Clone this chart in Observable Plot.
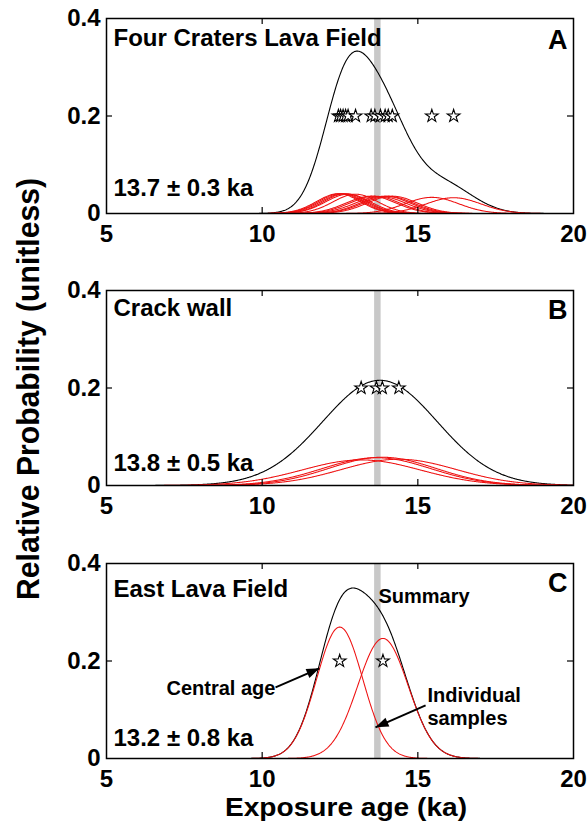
<!DOCTYPE html>
<html><head><meta charset="utf-8">
<script src="https://cdn.jsdelivr.net/npm/d3@7"></script>
<script src="https://cdn.jsdelivr.net/npm/@observablehq/plot@0.6"></script>
<style>
body{margin:0;background:#fff;}
#wrap{position:relative;width:587px;height:822px;overflow:hidden;background:#fff;}
#wrap svg{position:absolute;left:0;}
</style></head><body><div id="wrap"></div>
<script>
// ---- data ----
const xTicks = [5, 10, 15, 20];
const yTicks = [0, 0.2, 0.4];
const innerXTicks = [10, 15];
const innerYTicks = [0.2];
const referenceAge = 13.7;
const starLevel = 0.2;

const titles = ["Four Craters Lava Field", "Crack wall", "East Lava Field"];
const letters = ["A", "B", "C"];
const summaries = ["13.7 ± 0.3 ka", "13.8 ± 0.5 ka", "13.2 ± 0.8 ka"];

// sample exposure ages (ka) and 1-sigma uncertainties
const agesA = [12.45, 12.52, 12.6, 12.68, 12.76, 13.0, 13.5, 13.62, 13.8, 13.95, 14.05, 14.18, 15.45, 16.15];
const sigmasA = [0.70, 0.70, 0.71, 0.70, 0.72, 0.72, 0.80, 0.80, 0.82, 0.80, 0.81, 0.80, 0.86, 0.88];
const agesB = [13.18, 13.67, 13.86, 14.39];
const sigmasB = [1.90, 1.75, 1.72, 1.85];
const agesC = [12.49, 13.88];
const sigmasC = [0.74, 0.81];

const notesC = ["Summary", "Central age", "Individual\nsamples"];
const arrowsC = [
  {x1: 10.43, y1: 0.146, x2: 11.84, y2: 0.185},
  {x1: 15.25, y1: 0.109, x2: 13.64, y2: 0.064}
];
const xLabel = "Exposure age (ka)";
const yLabel = "Relative Probability (unitless)";

// ---- helpers ----
const FONT = "'Liberation Sans', Arial, Helvetica, sans-serif";
const PLOT_W = 467, PLOT_H = 195;
function gauss(x, mu, s, n) {
  return Math.exp(-0.5 * ((x - mu) / s) ** 2) / (s * Math.sqrt(2 * Math.PI)) / n;
}
function grid(lo, hi) { return d3.range(lo, hi, 0.02).concat([hi]); }

// filled arrow-head symbol with its tip at the origin, pointing up
const headSymbol = {
  draw(ctx) { ctx.moveTo(0, 0); ctx.lineTo(-4.8, 13); ctx.lineTo(4.8, 13); ctx.closePath(); }
};
const kx = PLOT_W / 15, ky = PLOT_H / 0.4;
const headAngle = d => Math.atan2((d.x2 - d.x1) * kx, (d.y2 - d.y1) * ky) * 180 / Math.PI;

function panel(i, ages, sigmas, top, h, opts, extra = []) {
  const n = ages.length;
  const red = [];
  ages.forEach((mu, k) => {
    const s = sigmas[k];
    for (const x of grid(Math.max(5, mu - 4 * s), Math.min(20, mu + 4 * s)))
      red.push({id: k, x, y: gauss(x, mu, s, n)});
  });
  const lo = Math.max(5, d3.min(ages, (mu, k) => mu - 4 * sigmas[k]));
  const hi = Math.min(20, d3.max(ages, (mu, k) => mu + 4 * sigmas[k]));
  const black = grid(lo, hi).map(x => ({x, y: d3.sum(ages, (mu, k) => gauss(x, mu, sigmas[k], n))}));
  const svg = Plot.plot({
    width: 587, height: h,
    marginLeft: 106, marginRight: 14, marginTop: 18, marginBottom: h - 18 - PLOT_H,
    x: {domain: [5, 20]},
    y: {domain: [0, 0.4]},
    style: {fontFamily: FONT, fontSize: "24px", fontWeight: "bold", background: "transparent", color: "black", overflow: "visible"},
    marks: [
      Plot.ruleX([referenceAge], {stroke: "#c8c8c8", strokeWidth: 6.5}),
      Plot.line(black, {x: "x", y: "y", stroke: "black", strokeWidth: 1.1}),
      Plot.line(red, {x: "x", y: "y", z: "id", stroke: "#ee1111", strokeWidth: 1.05}),
      Plot.dot(ages, {x: d => d, y: () => starLevel, symbol: "star", r: 4, fill: "white", stroke: "black", strokeWidth: 1.1}),
      Plot.tickX(innerXTicks, {x: d => d, insetTop: PLOT_H - 6, stroke: "black", strokeWidth: 1.2}),
      Plot.tickX(innerXTicks, {x: d => d, insetBottom: PLOT_H - 6, stroke: "black", strokeWidth: 1.2}),
      Plot.tickY(innerYTicks, {y: d => d, insetLeft: PLOT_W - 6, stroke: "black", strokeWidth: 1.2}),
      Plot.tickY(innerYTicks, {y: d => d, insetRight: PLOT_W - 6, stroke: "black", strokeWidth: 1.2}),
      Plot.axisX(xTicks, {anchor: "bottom", tickSize: 0, tickPadding: 11, label: null}),
      Plot.axisY(yTicks, {anchor: "left", tickSize: 0, tickPadding: 6, label: null, tickFormat: d => d === 0 ? "0" : d.toFixed(1)}),
      Plot.frame({stroke: "black", strokeWidth: 1.5}),
      Plot.text([titles[i]], {frameAnchor: "top-left", dx: 7, dy: opts.titleDy, lineAnchor: "top", textAnchor: "start", fontSize: 24}),
      Plot.text([letters[i]], {frameAnchor: "top-right", dx: -6, dy: opts.letterDy, lineAnchor: "top", textAnchor: "end", fontSize: 27}),
      Plot.text([summaries[i]], {frameAnchor: "bottom-left", dx: 7, dy: -opts.ageUp, lineAnchor: "bottom", textAnchor: "start", fontSize: 24}),
      ...extra
    ]
  });
  svg.style.top = top + "px";
  return svg;
}

const wrap = document.getElementById("wrap");
wrap.appendChild(panel(0, agesA, sigmasA, 0, 272, {titleDy: 10, letterDy: 11, ageUp: 18}));
wrap.appendChild(panel(1, agesB, sigmasB, 272, 272, {titleDy: 8, letterDy: 9, ageUp: 15}));
wrap.appendChild(panel(2, agesC, sigmasC, 545, 277, {titleDy: 16, letterDy: 9, ageUp: 13}, [
  Plot.text([notesC[0]], {frameAnchor: "top-left", dx: 272, dy: 25, lineAnchor: "top", textAnchor: "start", fontSize: 20}),
  Plot.text([notesC[1]], {frameAnchor: "top-left", dx: 60, dy: 117, lineAnchor: "top", textAnchor: "start", fontSize: 20}),
  Plot.text([notesC[2]], {frameAnchor: "top-left", dx: 321, dy: 122, lineAnchor: "top", textAnchor: "start", fontSize: 20, lineHeight: 1.15}),
  Plot.link(arrowsC, {x1: "x1", y1: "y1", x2: "x2", y2: "y2", stroke: "black", strokeWidth: 2}),
  Plot.dot(arrowsC, {x: "x2", y: "y2", symbol: headSymbol, rotate: headAngle, fill: "black", stroke: "none", r: 4})
]));

// overall axis titles
const ns = "http://www.w3.org/2000/svg";
const ov = document.createElementNS(ns, "svg");
ov.setAttribute("width", 587); ov.setAttribute("height", 822);
ov.style.top = "0px"; ov.style.pointerEvents = "none";
ov.setAttribute("font-family", FONT); ov.setAttribute("font-weight", "bold");
const tx = document.createElementNS(ns, "text");
tx.setAttribute("x", 346); tx.setAttribute("y", 816); tx.setAttribute("text-anchor", "middle");
tx.setAttribute("font-size", 25); tx.setAttribute("textLength", 242); tx.setAttribute("lengthAdjust", "spacingAndGlyphs");
tx.textContent = xLabel;
ov.appendChild(tx);
const ty = document.createElementNS(ns, "text");
ty.setAttribute("transform", "translate(38.5,389) rotate(-90)"); ty.setAttribute("text-anchor", "middle");
ty.setAttribute("font-size", 32); ty.setAttribute("textLength", 422); ty.setAttribute("lengthAdjust", "spacingAndGlyphs");
ty.textContent = yLabel;
ov.appendChild(ty);
wrap.appendChild(ov);
</script></body></html>
